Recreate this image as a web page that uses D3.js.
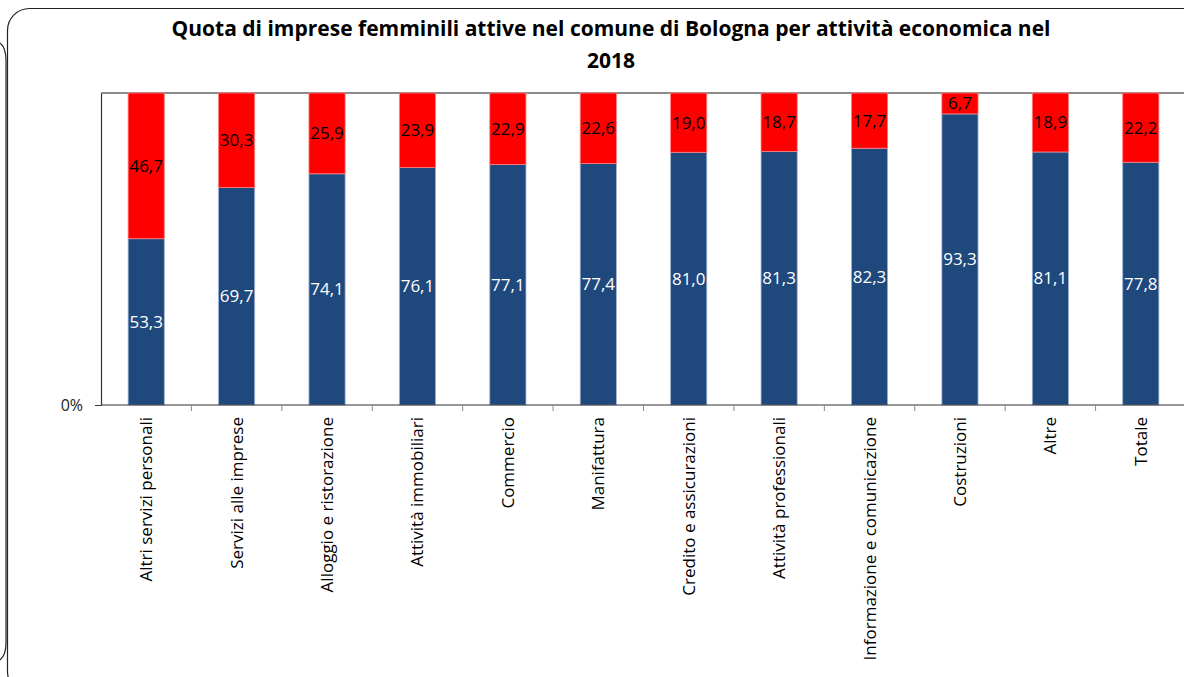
<html>
<head>
    <meta charset="utf-8">
    <script src="https://d3js.org/d3.v7.min.js"></script>
    <style>
        body { margin: 0; background: #fff; }
        svg { display: block; font-family: "Open Sans", "Noto Sans", sans-serif; }
    </style>
</head>
<body>
    <svg id="svg" width="1184" height="677"></svg>
    <script>
        // DATA
        const categories = [
            "Altri servizi personali", "Servizi alle imprese", "Alloggio e ristorazione",
            "Attività immobiliari", "Commercio", "Manifattura", "Credito e assicurazioni",
            "Attività professionali", "Informazione e comunicazione", "Costruzioni",
            "Altre", "Totale"
        ]
        const nonFemminili = [53.3, 69.7, 74.1, 76.1, 77.1, 77.4, 81.0, 81.3, 82.3, 93.3, 81.1, 77.8]
        const femminili = [46.7, 30.3, 25.9, 23.9, 22.9, 22.6, 19.0, 18.7, 17.7, 6.7, 18.9, 22.2]
        const yTicks = [0]

        const fmt = v => v.toFixed(1).replace(".", ",")

        const svg = d3.select("#svg")

        // frame shapes around the chart
        svg.append("path")
            .attr("d", "M0,43 Q6,48 6,60 L6,643 Q6,655 0,660")
            .attr("fill", "none").attr("stroke", "#222").attr("stroke-width", 1.2)
        svg.append("rect")
            .attr("x", 7.5).attr("y", 8.5).attr("width", 1220).attr("height", 685)
            .attr("rx", 22).attr("ry", 22)
            .attr("fill", "none").attr("stroke", "#222").attr("stroke-width", 1.2)

        // title
        const title = svg.append("text")
            .attr("text-anchor", "middle")
            .attr("font-weight", "bold")
            .attr("font-size", 21)
            .attr("fill", "#000")
        title.append("tspan").attr("x", 611).attr("y", 36)
            .text("Quota di imprese femminili attive nel comune di Bologna per attività economica nel")
        title.append("tspan").attr("x", 611).attr("y", 68).text("2018")

        // scales
        const x = d3.scaleBand()
            .domain(categories)
            .range([101, 1186])
            .paddingInner(0.6)
            .paddingOuter(0.3)

        const y = d3.scaleLinear().domain([0, 100]).range([405, 93])

        const rows = categories.map((c, i) => ({ cat: c, blue: nonFemminili[i], red: femminili[i] }))

        // plot area top border
        svg.append("line")
            .attr("x1", 101).attr("x2", 1184).attr("y1", y(100)).attr("y2", y(100))
            .attr("stroke", "#666").attr("stroke-width", 1.5)

        // bars
        const g = svg.append("g")
        g.selectAll("rect.blue").data(rows).enter().append("rect")
            .attr("x", d => x(d.cat)).attr("width", x.bandwidth())
            .attr("y", d => y(d.blue)).attr("height", d => y(0) - y(d.blue))
            .attr("fill", "#1F497D")
            .attr("stroke", "#9fb3d1").attr("stroke-width", 0.8)
        g.selectAll("rect.red").data(rows).enter().append("rect")
            .attr("x", d => x(d.cat)).attr("width", x.bandwidth())
            .attr("y", d => y(d.blue + d.red)).attr("height", d => y(d.blue) - y(d.blue + d.red))
            .attr("fill", "#FF0000")
            .attr("stroke", "#ff8080").attr("stroke-width", 0.8)

        // value labels
        g.selectAll("text.blue").data(rows).enter().append("text")
            .attr("x", d => x(d.cat) + x.bandwidth() / 2)
            .attr("y", d => y(d.blue / 2))
            .attr("dy", "0.35em").attr("text-anchor", "middle")
            .attr("font-size", 17).attr("fill", "#fff")
            .text(d => fmt(d.blue))
        g.selectAll("text.red").data(rows).enter().append("text")
            .attr("x", d => x(d.cat) + x.bandwidth() / 2)
            .attr("y", d => y(d.blue + d.red / 2))
            .attr("dy", "0.35em").attr("text-anchor", "middle")
            .attr("font-size", 17).attr("fill", "#000")
            .text(d => fmt(d.red))

        // y axis
        const yAxis = svg.append("g")
            .attr("transform", "translate(101,0)")
            .call(d3.axisLeft(y).tickValues(yTicks).tickSize(6).tickSizeOuter(0).tickFormat(d => d + "%"))
        yAxis.select(".domain").attr("stroke", "#333").attr("stroke-width", 1.2)
        yAxis.selectAll(".tick line").attr("stroke", "#333")
        yAxis.selectAll(".tick text")
            .style("font-size", "16px").style("font-family", "\"Open Sans\", sans-serif")
            .attr("fill", "#222")
            .attr("x", -18)

        // x axis: baseline, ticks between categories, rotated labels
        const xAxis = svg.append("g")
        xAxis.append("line")
            .attr("x1", 101).attr("x2", 1184).attr("y1", y(0)).attr("y2", y(0))
            .attr("stroke", "#333").attr("stroke-width", 1.2)
        const bounds = categories.map(c => x(c) - x.step() * x.paddingOuter())
        xAxis.selectAll("line.tick").data(bounds.slice(1)).enter().append("line")
            .attr("x1", d => d).attr("x2", d => d)
            .attr("y1", y(0)).attr("y2", y(0) + 6)
            .attr("stroke", "#888")
        xAxis.selectAll("text").data(categories).enter().append("text")
            .attr("transform", d => `translate(${x(d) + x.bandwidth() / 2 + 6},417) rotate(-90)`)
            .attr("text-anchor", "end")
            .attr("font-size", 17).attr("fill", "#000")
            .text(d => d)
    </script>
</body>
</html>
